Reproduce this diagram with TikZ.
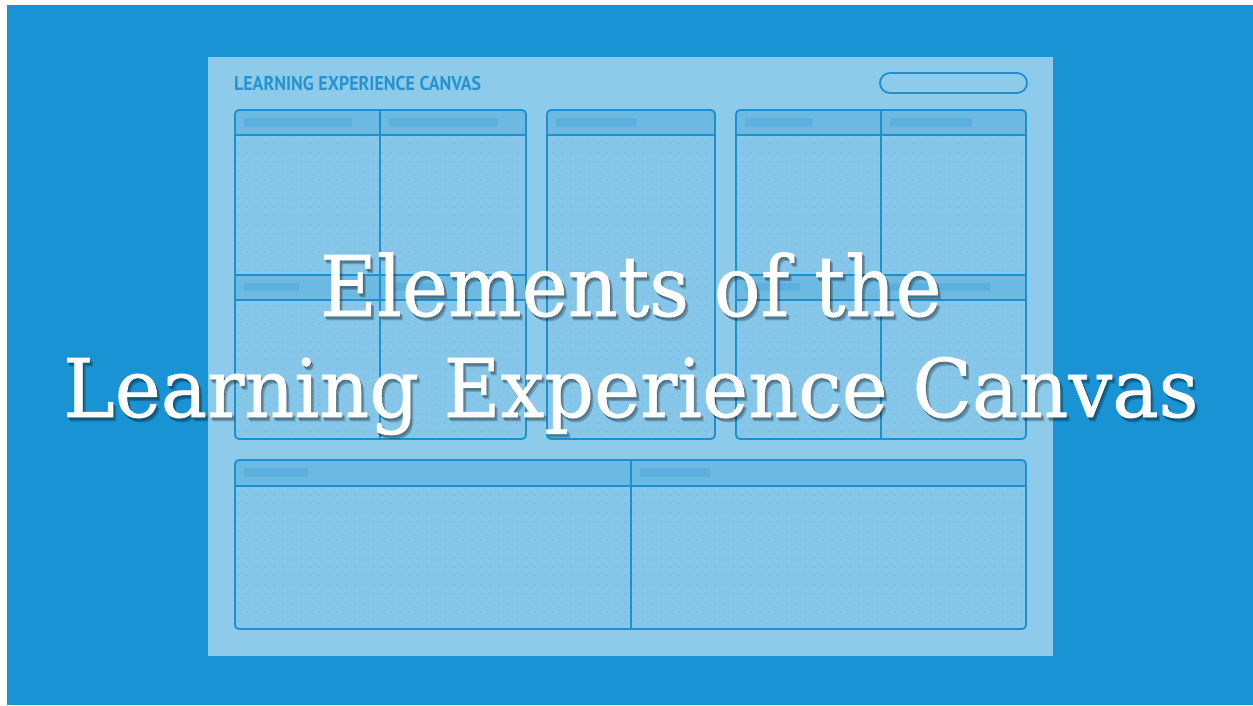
\documentclass[tikz,border=0pt]{standalone}
\usepackage{fontspec}
\usepackage{graphicx}
\usetikzlibrary{patterns.meta}
\newfontfamily\slabfont[FakeBold=0.8]{DejaVu Serif}
\newfontfamily\condfont{PT Sans}
\definecolor{bgblue}{RGB}{25,147,211}
\definecolor{panelc}{RGB}{142,203,234}
\definecolor{cellc}{RGB}{134,198,232}
\definecolor{headc}{RGB}{108,185,226}
\definecolor{barc}{RGB}{92,176,222}
\definecolor{edgec}{RGB}{30,143,207}
\definecolor{dotc}{RGB}{112,180,221}
\definecolor{titleblue}{RGB}{38,147,209}
\tikzdeclarepattern{name=griddots, type=uncolored,
  bounding box={(0pt,0pt) and (9pt,9pt)}, tile size={(9pt,9pt)},
  code={\pgfpathcircle{\pgfpoint{4.5pt}{4.5pt}}{0.75pt}\pgfusepath{fill}}}
\newcommand\fitbox[3]{\resizebox{#1}{#2}{\vphantom{E}\smash{#3}}}
\makeatletter
\newcommand\shadowlayer[5]{\rlap{\pgfsys@beginscope\pgfsetfillopacity{0.14}\pgfsetstrokeopacity{0.14}\color{black}\kern#4\raisebox{-#5}{\fitbox{#1}{#2}{#3}}\pgfsys@endscope}}
\makeatother
\newcommand\shadowfit[3]{\shadowlayer{#1}{#2}{#3}{1pt}{2pt}\shadowlayer{#1}{#2}{#3}{2pt}{3pt}\shadowlayer{#1}{#2}{#3}{3pt}{4pt}\fitbox{#1}{#2}{#3}}
\tikzset{
  edgeline/.style={draw=edgec, line width=1.8pt},
  roundbox/.style={rounded corners=4pt},
  placebar/.style={fill=barc},
  bigtext/.style={anchor=base west, inner sep=0pt, text=white},
}
\begin{document}
\begin{tikzpicture}[x=1pt,y=-1pt]
\useasboundingbox (0,0) rectangle (1253,705);
\fill[white] (0,0) rectangle (1253,705);
\fill[bgblue] (7,5) rectangle (1253,705);
% canvas sheet
\fill[panelc] (208,57) rectangle (1053,656);
\node[anchor=base west, inner sep=0pt, text=titleblue] (canvastitle) at (234,90.5)
  {\condfont\bfseries\fitbox{247pt}{14pt}{LEARNING EXPERIENCE CANVAS}};
\draw[edgeline, fill=panelc, rounded corners=10pt] (880,73) rectangle (1027,93);
% boxes: fills
\foreach \xa/\ya/\xb/\yb/\hb in {235/110/526/439/135, 547/110/715/439/135, 736/110/1026/439/135, 235/460/1026/629/486}{
  \fill[cellc, roundbox] (\xa,\ya) rectangle (\xb,\yb);
  \fill[pattern=griddots, pattern color=dotc, roundbox] (\xa,\ya) rectangle (\xb,\yb);
  \begin{scope}
    \clip[roundbox] (\xa,\ya) rectangle (\xb,\yb);
    \fill[headc] (\xa,\ya) rectangle (\xb,\hb);
  \end{scope}
}
\fill[headc] (235,275) rectangle (526,300);
\fill[headc] (736,275) rectangle (1026,300);
% placeholder bars
\foreach \xa/\ya/\xb/\yb in {244/118/352/127, 389/118/498/127, 556/118/637/127, 745/118/813/127, 890/118/972/127,
  244/283/299/291, 389/283/444/291, 745/283/800/291, 890/283/990/291,
  244/468/308/477, 640/468/710/477}{
  \fill[placebar] (\xa,\ya) rectangle (\xb,\yb);
}
% box outlines and dividers
\foreach \xa/\ya/\xb/\yb/\hb in {235/110/526/439/135, 547/110/715/439/135, 736/110/1026/439/135, 235/460/1026/629/486}{
  \draw[edgeline, roundbox] (\xa,\ya) rectangle (\xb,\yb);
  \draw[edgeline] (\xa,\hb) -- (\xb,\hb);
}
\draw[edgeline] (235,275) -- (526,275) (235,300) -- (526,300);
\draw[edgeline] (736,275) -- (1026,275) (736,300) -- (1026,300);
\draw[edgeline] (380,110) -- (380,439);
\draw[edgeline] (881,110) -- (881,439);
\draw[edgeline] (631,460) -- (631,629);
% big title with soft shadow
\node[bigtext] (line1) at (320,316) {\slabfont\shadowfit{621pt}{61pt}{Elements of the}};
\node[bigtext] (line2) at (63,417) {\slabfont\shadowfit{1135pt}{59pt}{Learning Experience Canvas}};
\end{tikzpicture}
\end{document}
